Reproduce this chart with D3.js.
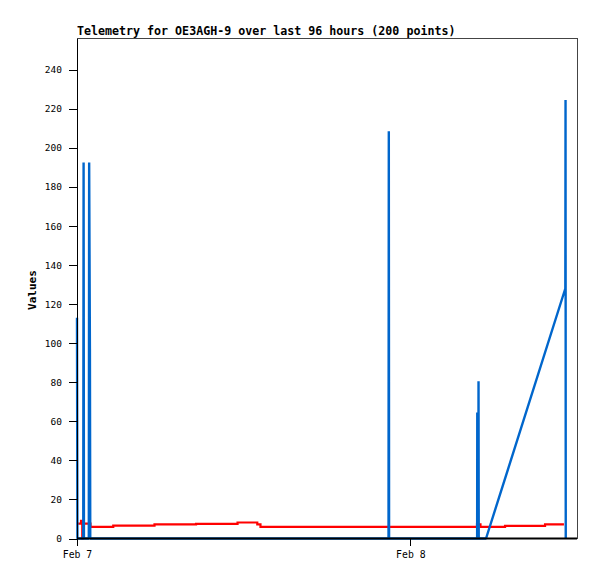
<!DOCTYPE html>
<html><head><meta charset="utf-8">
<script src="https://cdn.jsdelivr.net/npm/d3@7"></script>
<style>body{margin:0;background:#fff}</style>
</head><body>
<svg id="c" width="597" height="579"></svg>
<script>
// ---- data ----
const title = "Telemetry for OE3AGH-9 over last 96 hours (200 points)";
const yLabel = "Values";
const startISO = "2024-02-07T00:00:00Z";
const spanHours = 36;
const xTickHours = [0, 24];
const yTicks = [0, 20, 40, 60, 80, 100, 120, 140, 160, 180, 200, 220, 240];
const yMax = 256;

// blue series: hours since Feb 7 00:00, values
const blueHours  = [0.00, 0.03, 0.45, 0.475, 0.50, 0.85, 0.875, 0.93, 0.955, 22.43, 22.45, 22.47, 28.81, 28.82, 28.835, 28.90, 28.91, 28.925, 29.45, 35.16, 35.175, 35.19];
const blueValues = [113,  0,    0,    192.5, 0,    0,    192.5, 97,   0,     0,     208.5, 0,     0,     64.5,  0,      0,     80.5,  0,      0,     128,   224.5,  0];

// red series (step after)
const redHours  = [0.00, 0.29, 0.38, 0.42, 0.97, 2.61, 5.58, 8.57, 11.56, 12.98, 13.21, 28.80, 29.05, 30.82, 33.70, 35.06];
const redValues = [7.6,  9.0,  0,    7.6,  6.0,  6.6,  7.2,  7.5,  8.2,   7.2,   6.0,   7.2,   6.0,   6.5,   7.2,   7.2];

// ---- chart ----
const svg = d3.select("#c");
const L = 77, R = 577, T = 38.5, B = 538.5;
const t0 = new Date(startISO);
const hToDate = h => new Date(t0.getTime() + h * 3600e3);

const x = d3.scaleUtc().domain([t0, hToDate(spanHours)]).range([L, R]);
const y = d3.scaleLinear().domain([0, yMax]).range([B, T]);

svg.append("rect").attr("width", 597).attr("height", 579).attr("fill", "#fff");

const red = redHours.map((h, i) => [hToDate(h), redValues[i]]);
const blue = blueHours.map((h, i) => [hToDate(h), blueValues[i]]);

svg.append("path")
  .attr("d", d3.line().x(d => x(d[0])).y(d => y(d[1])).curve(d3.curveStepAfter)(red))
  .attr("fill", "none").attr("stroke", "#ff0000").attr("stroke-width", 2.2)
  .attr("stroke-linejoin", "miter");

svg.append("path")
  .attr("d", d3.line().x(d => x(d[0])).y(d => y(d[1]))(blue))
  .attr("fill", "none").attr("stroke", "#0066cc").attr("stroke-width", 2.4)
  .attr("stroke-linejoin", "bevel");

// frame (top & right gray)
svg.append("path")
  .attr("d", `M${L},${T}H${R}V${B}`)
  .attr("fill", "none").attr("stroke", "#444").attr("stroke-width", 1)
  .attr("shape-rendering", "crispEdges");

// left axis
const yAxis = d3.axisLeft(y).tickValues(yTicks).tickSize(8).tickPadding(7).tickSizeOuter(0);
const gy = svg.append("g").attr("transform", `translate(${L},0)`).call(yAxis);
gy.select(".domain").remove();
gy.append("line").attr("x1", 0).attr("x2", 0).attr("y1", T).attr("y2", B)
  .attr("stroke", "#000").attr("shape-rendering", "crispEdges");
gy.selectAll(".tick line").attr("stroke", "#000").attr("shape-rendering", "crispEdges");
gy.selectAll("text").attr("font-family", "DejaVu Sans Mono").attr("font-size", "9.5px").attr("fill", "#000");

// bottom axis
const xAxis = d3.axisBottom(x).tickValues(xTickHours.map(hToDate))
  .tickFormat(d3.utcFormat("%b %-d")).tickSize(7).tickPadding(6).tickSizeOuter(0);
const gx = svg.append("g").attr("transform", `translate(0,${B})`).call(xAxis);
gx.select(".domain").remove();
gx.selectAll(".tick line").attr("stroke", "#000").attr("shape-rendering", "crispEdges");
gx.selectAll("text").attr("font-family", "DejaVu Sans Mono").attr("font-size", "9.8px").attr("fill", "#000");
svg.append("line").attr("x1", L).attr("x2", R).attr("y1", B).attr("y2", B)
  .attr("stroke", "#000").attr("stroke-width", 2.2);

// title
svg.append("text").attr("x", L).attr("y", 35).text(title)
  .attr("font-family", "DejaVu Sans Mono").attr("font-weight", "bold").attr("font-size", "11.65px").attr("fill", "#000");

// y label
svg.append("text").attr("transform", "translate(36,290) rotate(-90)")
  .attr("text-anchor", "middle").text(yLabel)
  .attr("font-family", "DejaVu Sans Mono").attr("font-weight", "bold").attr("font-size", "11px").attr("fill", "#000");
</script>
</body></html>
